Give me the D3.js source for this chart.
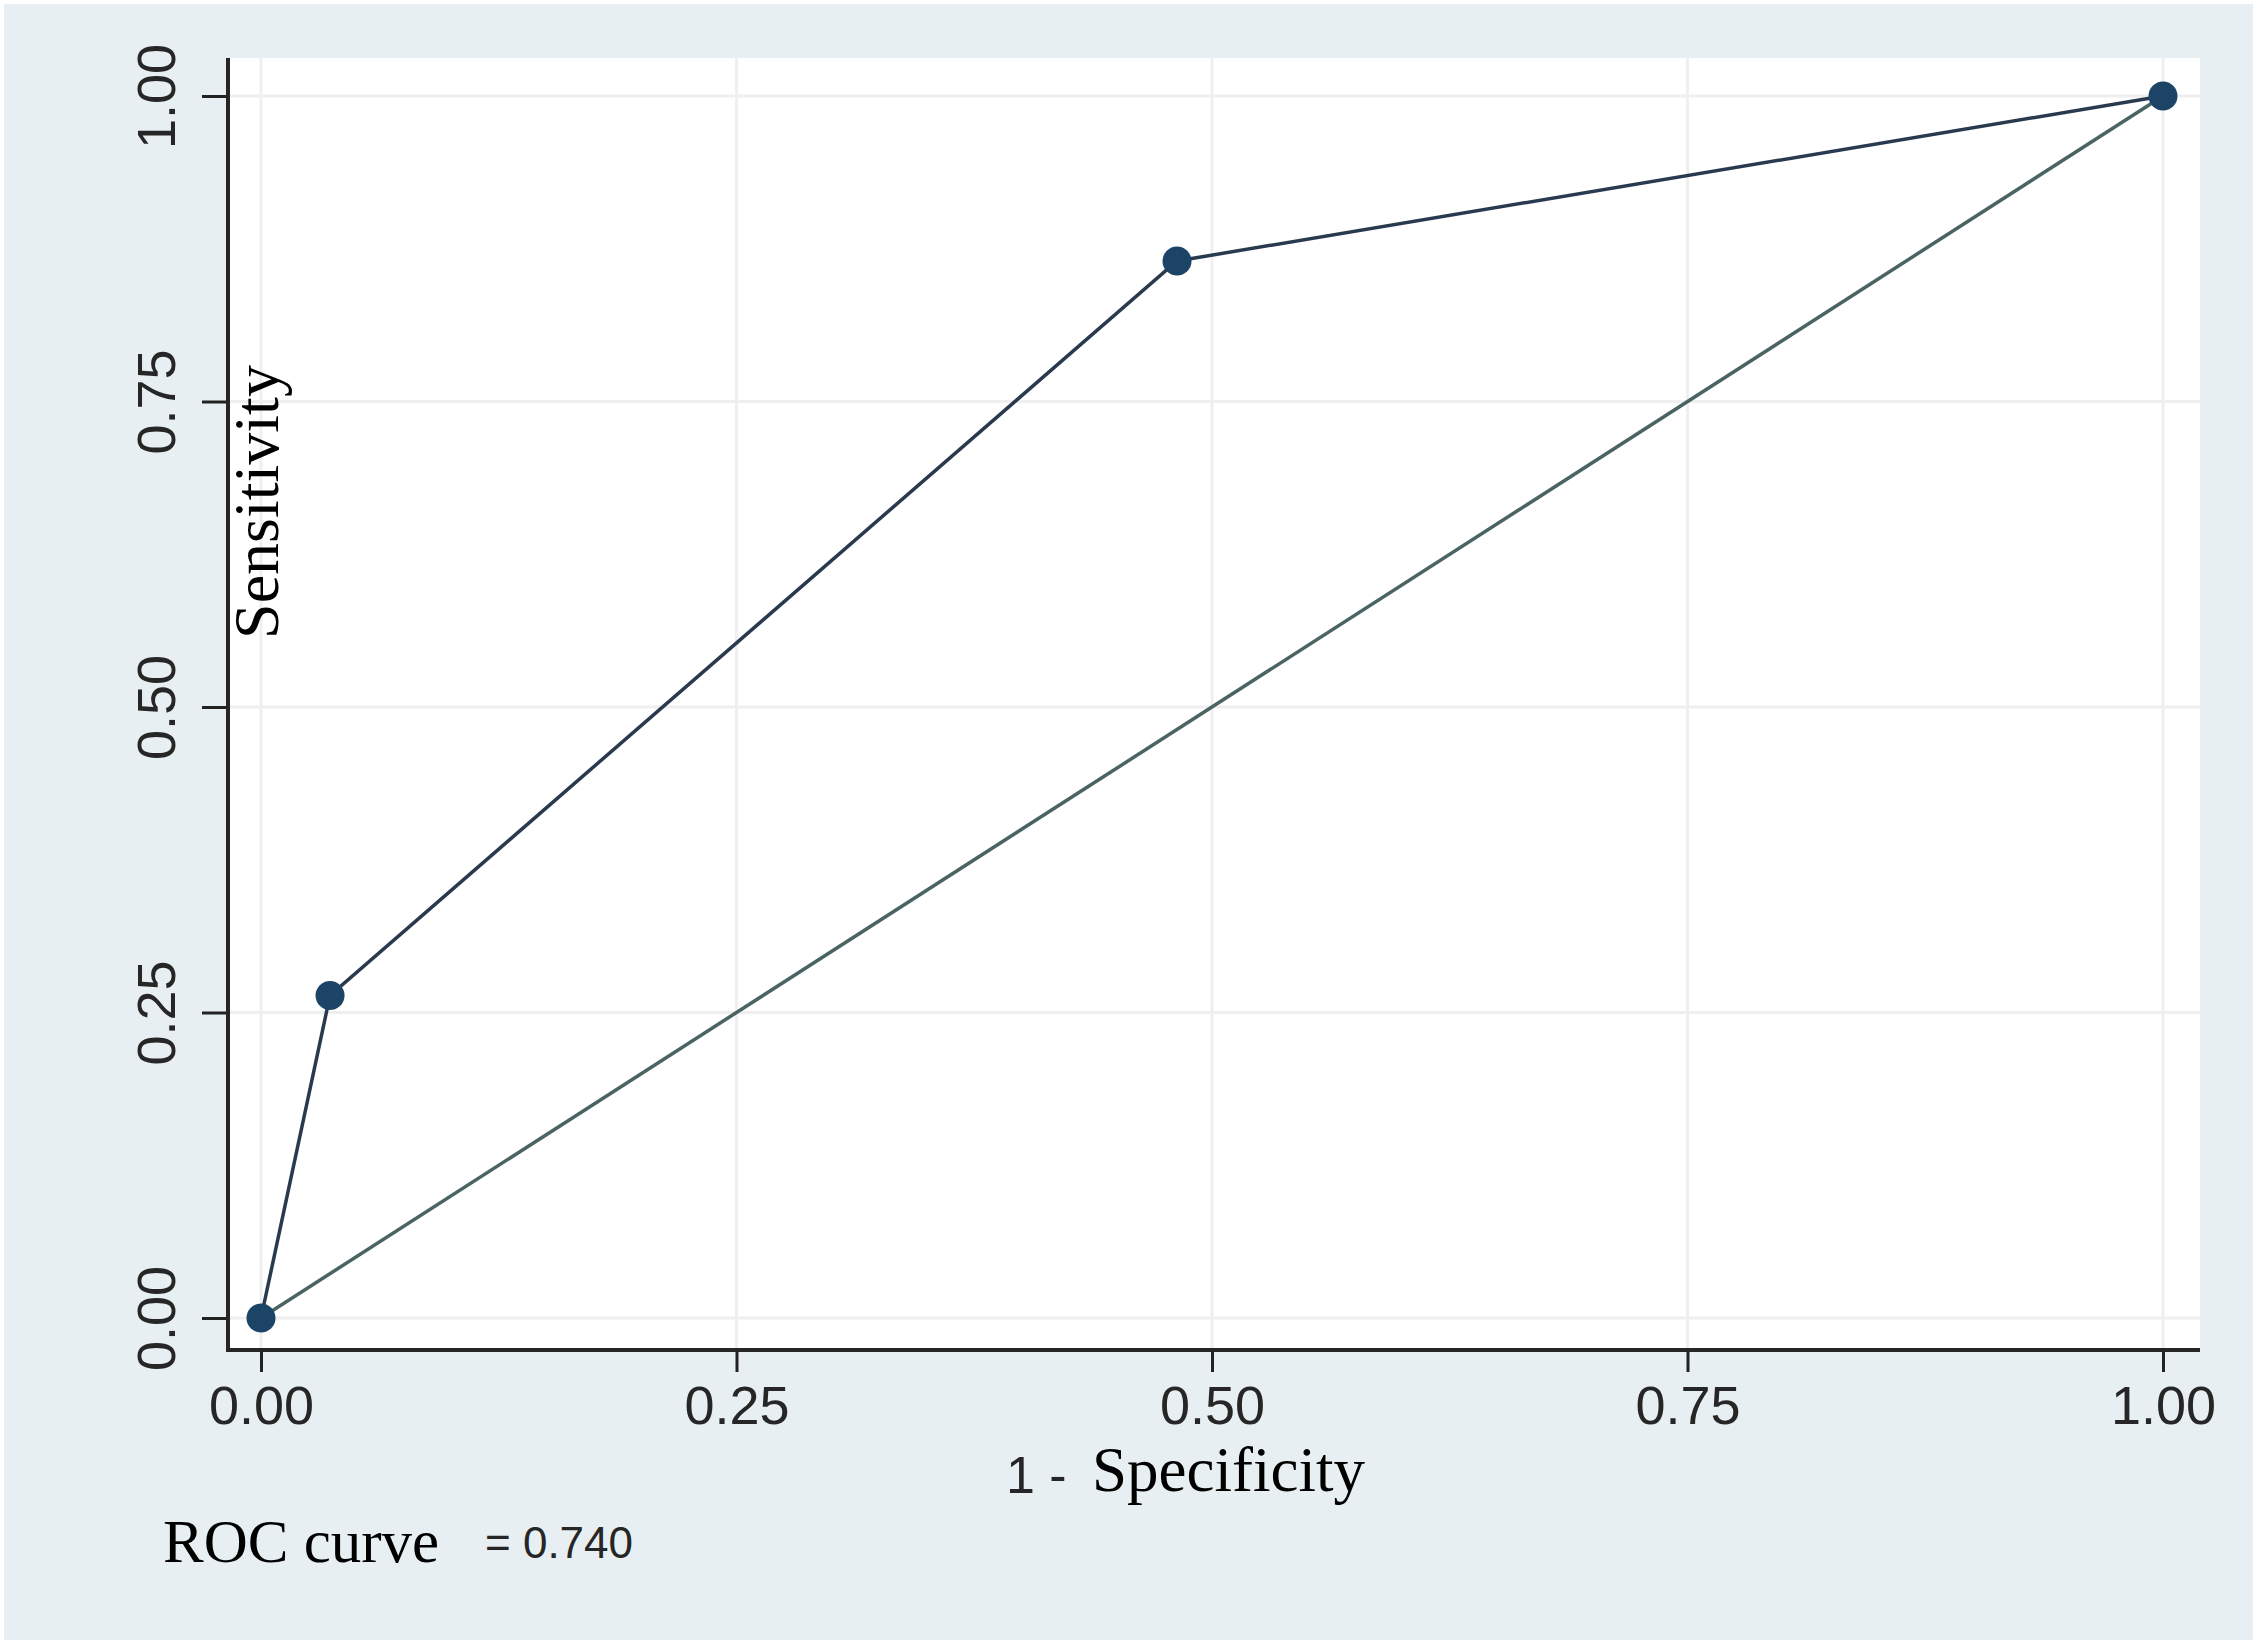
<!DOCTYPE html>
<html>
<head>
<meta charset="utf-8">
<script src="https://cdn.jsdelivr.net/npm/d3@7"></script>
<style>
  html, body { margin: 0; padding: 0; background: #ffffff; }
  svg { display: block; }
</style>
</head>
<body>
<script>
// ---- data ----
const fpr = [0, 0.0363, 0.4816, 1];          // 1 - Specificity
const tpr = [0, 0.264, 0.865, 1];            // Sensitivity
const refX = [0, 1];
const refY = [0, 1];
const tickValues = [0, 0.25, 0.5, 0.75, 1];
const tickLabels = ["0.00", "0.25", "0.50", "0.75", "1.00"];
const xTitleNum = "1 -";
const xTitle = "Specificity";
const yTitle = "Sensitivity";
const noteLabel = "ROC curve";
const noteValue = "= 0.740";

// ---- layout ----
const W = 2258, H = 1645;
const plot = { left: 228, right: 2200, top: 58, bottom: 1350 };

const svg = d3.select("body").append("svg").attr("width", W).attr("height", H);

svg.append("rect").attr("x", 4).attr("y", 4).attr("width", 2249).attr("height", 1636)
  .attr("fill", "#e8eff2");
svg.append("rect").attr("x", plot.left).attr("y", plot.top)
  .attr("width", plot.right - plot.left).attr("height", plot.bottom - plot.top)
  .attr("fill", "#ffffff");

const x = d3.scaleLinear().domain([0, 1]).range([261, 2163]);
const y = d3.scaleLinear().domain([0, 1]).range([1318, 96]);

// gridlines
const grid = svg.append("g");
grid.selectAll("line.h").data(tickValues).join("line")
  .attr("x1", plot.left).attr("x2", plot.right)
  .attr("y1", d => y(d)).attr("y2", d => y(d))
  .attr("stroke", "#efefef").attr("stroke-width", 3);
grid.selectAll("line.v").data(tickValues).join("line")
  .attr("y1", plot.top).attr("y2", plot.bottom)
  .attr("x1", d => x(d)).attr("x2", d => x(d))
  .attr("stroke", "#efefef").attr("stroke-width", 3);

// axes
const fmt = (d) => tickLabels[tickValues.indexOf(d)];
const yAxis = svg.append("g").attr("transform", `translate(${plot.left},0)`)
  .call(d3.axisLeft(y).tickValues(tickValues).tickFormat(fmt).tickSize(26).tickSizeOuter(0));
yAxis.select(".domain").remove();
yAxis.selectAll(".tick line").attr("stroke", "#222").attr("stroke-width", 3);
yAxis.selectAll(".tick text")
  .attr("x", 0).attr("dy", null).attr("y", -53)
  .attr("transform", "rotate(-90)")
  .attr("text-anchor", "middle")
  .attr("font-family", "'Liberation Sans', Arial, sans-serif")
  .attr("font-size", 54).attr("fill", "#262626");

const xAxis = svg.append("g").attr("transform", `translate(0,${plot.bottom})`)
  .call(d3.axisBottom(x).tickValues(tickValues).tickFormat(fmt).tickSize(22).tickSizeOuter(0));
xAxis.select(".domain").remove();
xAxis.selectAll(".tick line").attr("stroke", "#222").attr("stroke-width", 3);
xAxis.selectAll(".tick text")
  .attr("dy", null).attr("y", 74)
  .attr("text-anchor", "middle")
  .attr("font-family", "'Liberation Sans', Arial, sans-serif")
  .attr("font-size", 54).attr("fill", "#262626");

// axis lines
svg.append("line").attr("x1", plot.left).attr("x2", plot.left)
  .attr("y1", plot.top).attr("y2", plot.bottom + 2)
  .attr("stroke", "#262626").attr("stroke-width", 4);
svg.append("line").attr("x1", plot.left).attr("x2", plot.right)
  .attr("y1", plot.bottom).attr("y2", plot.bottom)
  .attr("stroke", "#262626").attr("stroke-width", 4);

// reference line
const line = d3.line().x(d => x(d[0])).y(d => y(d[1]));
svg.append("path").datum(d3.zip(refX, refY)).attr("d", line)
  .attr("fill", "none").attr("stroke", "#4a6363").attr("stroke-width", 3.5);

// ROC curve
const pts = d3.zip(fpr, tpr);
svg.append("path").datum(pts).attr("d", line)
  .attr("fill", "none").attr("stroke", "#2a3a4e").attr("stroke-width", 3.5);
svg.selectAll("circle.pt").data(pts).join("circle")
  .attr("cx", d => x(d[0])).attr("cy", d => y(d[1])).attr("r", 14.5)
  .attr("fill", "#1b4466");

// titles
svg.append("text").attr("transform", "translate(278,502) rotate(-90)")
  .attr("text-anchor", "middle")
  .attr("font-family", "'Liberation Serif', 'Times New Roman', serif")
  .attr("font-size", 64).attr("fill", "#000").text(yTitle);

svg.append("text").attr("x", 1006).attr("y", 1493)
  .attr("font-family", "'Liberation Sans', Arial, sans-serif")
  .attr("font-size", 52).attr("fill", "#262626").text(xTitleNum);
svg.append("text").attr("x", 1092).attr("y", 1491)
  .attr("font-family", "'Liberation Serif', 'Times New Roman', serif")
  .attr("font-size", 63).attr("fill", "#000").text(xTitle);

svg.append("text").attr("x", 163).attr("y", 1562)
  .attr("font-family", "'Liberation Serif', 'Times New Roman', serif")
  .attr("font-size", 61).attr("fill", "#000").text(noteLabel);
svg.append("text").attr("x", 485).attr("y", 1558)
  .attr("font-family", "'Liberation Sans', Arial, sans-serif")
  .attr("font-size", 44).attr("fill", "#262626").text(noteValue);
</script>
</body>
</html>
